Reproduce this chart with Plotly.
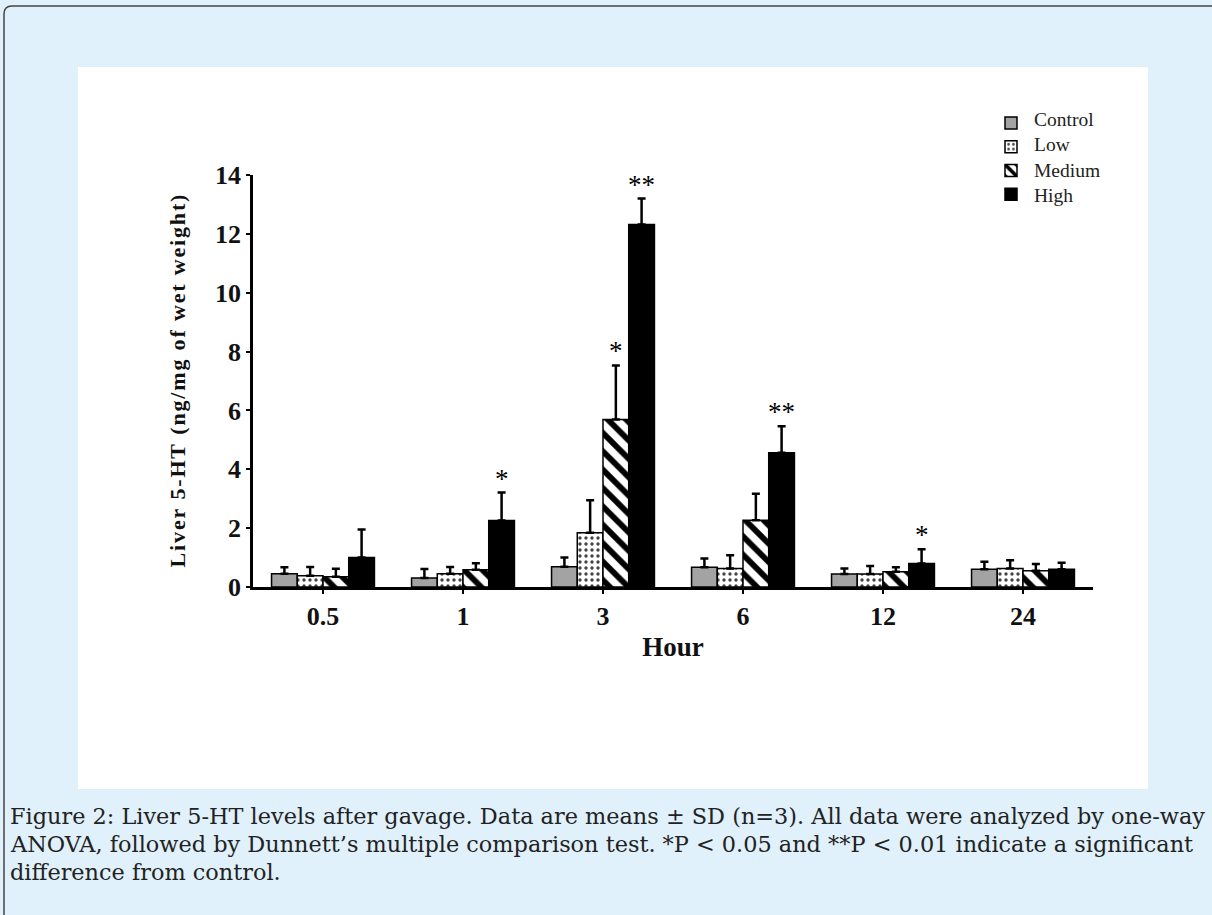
import plotly.graph_objects as go

hours = ["0.5", "1", "3", "6", "12", "24"]
groups = ["Control", "Low", "Medium", "High"]

control_mean = [0.45, 0.31, 0.69, 0.67, 0.44, 0.60]
control_sd = [0.22, 0.30, 0.31, 0.30, 0.19, 0.26]
low_mean = [0.38, 0.45, 1.84, 0.63, 0.44, 0.63]
low_sd = [0.30, 0.23, 1.11, 0.45, 0.27, 0.28]
medium_mean = [0.35, 0.59, 5.69, 2.27, 0.52, 0.55]
medium_sd = [0.27, 0.22, 1.84, 0.90, 0.15, 0.23]
high_mean = [1.00, 2.26, 12.32, 4.56, 0.80, 0.60]
high_sd = [0.95, 0.95, 0.88, 0.90, 0.48, 0.22]

# significance marks: (hour index, group index, label)
sig_marks = [(1, 3, "*"), (2, 2, "*"), (2, 3, "**"), (3, 3, "**"), (4, 3, "*")]

y_title = "Liver 5-HT (ng/mg of wet weight)"
x_title = "Hour"
caption_lines = [
    "Figure 2: Liver 5-HT levels after gavage. Data are means \u00b1 SD (n=3). All data were analyzed by one-way",
    "ANOVA, followed by Dunnett\u2019s multiple comparison test. *P < 0.05 and **P < 0.01 indicate a significant",
    "difference from control.",
]

means = [control_mean, low_mean, medium_mean, high_mean]
sds = [control_sd, low_sd, medium_sd, high_sd]

# layout geometry (pixels)
W, H = 1212, 915
L, R, T, B = 253, 1093, 175, 587
BARGAP = 0.265
SERIF = "Liberation Serif"


def px(x):
    return (x - L) / (R - L)


def py(y):
    return (B - y) / (B - T)


styles = [
    dict(color="#a3a3a3"),
    dict(color="white", pattern=dict(shape=".", fgcolor="#444444", bgcolor="white", size=6,
                                     solidity=0.25, fgopacity=1)),
    dict(color="white", pattern=dict(shape="\\", fgcolor="black", bgcolor="white", size=13,
                                     solidity=0.45, fgopacity=1)),
    dict(color="black"),
]

xs = list(range(len(hours)))
fig = go.Figure()
for gi, name in enumerate(groups):
    fig.add_trace(go.Bar(
        x=xs, y=means[gi], name="", hovertext=[name] * len(hours),
        marker=dict(**styles[gi], line=dict(color="black", width=1.5)),
        error_y=dict(type="data", array=sds[gi], arrayminus=[0] * len(hours), symmetric=False,
                     thickness=2.5, width=4, color="black"),
    ))

bw = (1 - BARGAP) / len(groups)
annotations = []
for hi, gi, lab in sig_marks:
    xc = hi - (1 - BARGAP) / 2 + bw * (gi + 0.5)
    annotations.append(dict(
        x=xc, y=means[gi][hi] + sds[gi][hi], xref="x", yref="y", text=lab, showarrow=False,
        yanchor="bottom", yshift=-3, font=dict(family=SERIF, size=27, color="black"),
    ))

# legend labels (one multi-line block next to the legend swatches)
annotations.append(dict(
    x=px(1032), y=py(157), xref="paper", yref="paper", text="<br>".join(groups), showarrow=False,
    xanchor="left", yanchor="middle", align="left",
    font=dict(family=SERIF, size=19.5, color="#222222"),
))

cap_y = [816, 844, 872]
for line, yy in zip(caption_lines, cap_y):
    annotations.append(dict(
        x=px(8), y=py(yy), xref="paper", yref="paper", text=line, showarrow=False,
        xanchor="left", yanchor="middle", font=dict(family="DejaVu Serif", size=22.4, color="#222222"),
    ))

shapes = [
    dict(type="rect", xref="paper", yref="paper", x0=px(78), x1=px(1148), y0=py(67), y1=py(789),
         fillcolor="white", line=dict(width=0), layer="below"),
    dict(type="path", xref="paper", yref="paper",
         path=f"M {px(4)} {py(915)} L {px(4)} {py(14)} Q {px(4)} {py(6)} {px(12)} {py(6)} L {px(1212)} {py(6)}",
         line=dict(color="#444444", width=1.5)),
]

spaced_y_title = "\u200a".join(y_title) + "\u200a" * 8

fig.update_layout(
    width=W, height=H,
    margin=dict(l=L, r=W - R, t=T, b=H - B, pad=0),
    paper_bgcolor="#e0f1fb", plot_bgcolor="white",
    barmode="group", bargap=BARGAP, bargroupgap=0,
    showlegend=True, hovermode="closest",
    legend=dict(x=px(991), y=py(106), xanchor="left", yanchor="top", bgcolor="rgba(0,0,0,0)",
                font=dict(family=SERIF, size=16, color="#222222"), tracegroupgap=0),
    xaxis=dict(range=[-0.5, 5.5], tickvals=xs, ticktext=hours, showline=True, linecolor="black", linewidth=2.5,
               ticks="outside", ticklen=4, tickwidth=2, tickcolor="black", showgrid=False, zeroline=False,
               tickfont=dict(family=SERIF, size=26, color="#111111", weight="bold"),
               title=dict(text=x_title, standoff=8,
                          font=dict(family=SERIF, size=27, color="#111111", weight="bold"))),
    yaxis=dict(range=[0, 14], dtick=2, showline=True, linecolor="black", linewidth=2.5,
               ticks="outside", ticklen=4, tickwidth=2, tickcolor="black", showgrid=False, zeroline=False,
               tickfont=dict(family=SERIF, size=26, color="#111111", weight="bold"),
               title=dict(text=spaced_y_title, standoff=24,
                          font=dict(family=SERIF, size=22, color="#111111", weight="bold"))),
    annotations=annotations,
    shapes=shapes,
)

fig.write_html("out.html", config={"displayModeBar": False},
               post_script="document.body.style.margin='0';")
